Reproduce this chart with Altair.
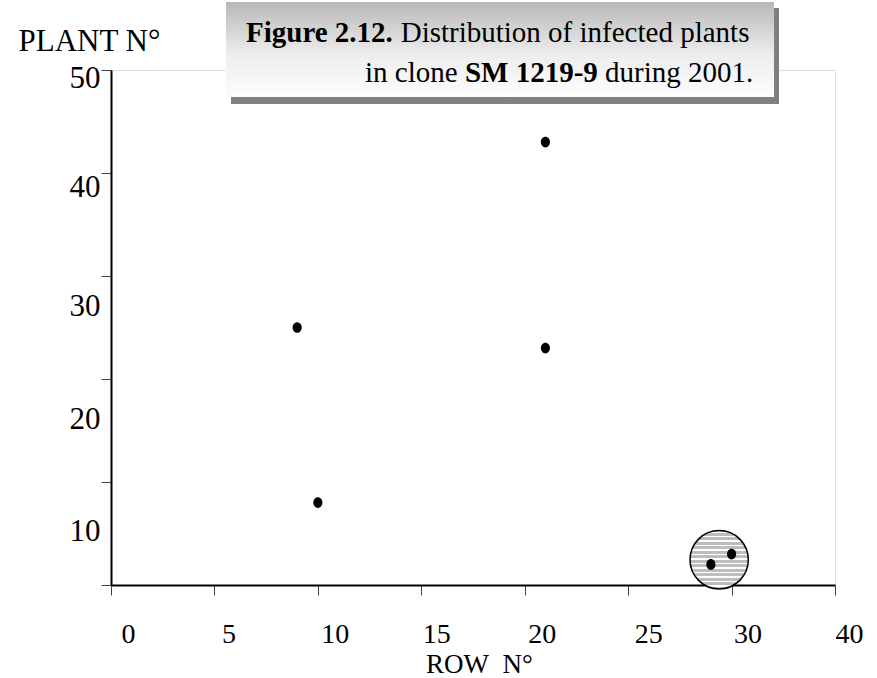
import altair as alt
import pandas as pd

# ---- data ----
row_no = [9, 21, 21, 10, 29, 30]
plant_no = [25, 43, 23, 8, 2, 3]
circle_row = [29.4]
circle_plant = [2.45]
x_tick_values = [0, 5, 10, 15, 20, 25, 30, 35]
y_tick_values = [0, 10, 20, 30, 40, 50]
title_l1_bold = "Figure 2.12."
title_l1 = "Distribution of infected plants"
title_l2_a = "in clone"
title_l2_bold = "SM 1219-9"
title_l2_b = "during 2001."

FONT = "Liberation Serif"

pts = pd.DataFrame({"row": row_no, "plant": plant_no})
circ = pd.DataFrame({"row": circle_row, "plant": circle_plant})
one = pd.DataFrame({"k": [0]})

xscale = alt.Scale(domain=[0, 35], nice=False, zero=False)
yscale = alt.Scale(domain=[0, 50], nice=False, zero=False)

# striped fill for the highlight circle
stops = []
n = 13
for i in range(n):
    s = (i + 0.2) / n
    w = 0.3 / n
    stops += [
        alt.GradientStop(offset=s, color="#bdbdbd"),
        alt.GradientStop(offset=s, color="#ffffff"),
        alt.GradientStop(offset=s + w, color="#ffffff"),
        alt.GradientStop(offset=s + w, color="#bdbdbd"),
    ]
stops = [alt.GradientStop(offset=0, color="#bdbdbd")] + stops + [alt.GradientStop(offset=1, color="#bdbdbd")]
stripe = alt.LinearGradient(gradient="linear", stops=stops, x1=0, x2=0, y1=0, y2=1)

xaxis = alt.Axis(
    values=x_tick_values,
    labelExpr="datum.value == 35 ? '40' : datum.label",
    title="ROW\u00a0 N°",
    titleX=368, titleY=87, titleAlign="center", titleBaseline="alphabetic",
    titleFont=FONT, titleFontSize=27, titleFontWeight="normal", titleColor="black",
    labelFont=FONT, labelFontSize=28, labelColor="black",
    labelAlign="left", labelBaseline="alphabetic", labelPadding=47,
    labelOffset={"condition": [
        {"test": "datum.value == 0", "value": 10},
        {"test": "datum.value == 5", "value": 7},
        {"test": "datum.value == 10", "value": 3},
        {"test": "datum.value == 15", "value": 1},
        {"test": "datum.value == 20", "value": 3},
        {"test": "datum.value == 25", "value": 6},
        {"test": "datum.value == 30", "value": 2},
    ], "value": 0},
    tickSize=10, tickColor="#444", tickWidth=1,
    domainColor="black", domainWidth=2, grid=False, labelFlush=False, labelOverlap=False,
)
yaxis = alt.Axis(
    values=y_tick_values,
    labelExpr="datum.value == 0 ? '' : datum.label",
    title="PLANT N°",
    titleAngle=0, titleX=-93, titleY=-20, titleAlign="left", titleBaseline="alphabetic",
    titleFont=FONT, titleFontSize=31, titleFontWeight="normal", titleColor="black",
    labelFont=FONT, labelFontSize=31, labelColor="black", labelPadding=1,
    labelOffset={"condition": [
        {"test": "datum.value == 10", "value": 49},
        {"test": "datum.value == 20", "value": 40},
        {"test": "datum.value == 30", "value": 30},
        {"test": "datum.value == 40", "value": 14},
    ], "value": 8},
    tickSize=10, tickColor="#444", tickWidth=1,
    domainColor="black", domainWidth=2, grid=False, labelFlush=False, labelOverlap=False,
)

circle = alt.Chart(circ).mark_circle(
    size=3400, fill=stripe, stroke="black", strokeWidth=1.5, opacity=1
).encode(
    x=alt.X("row:Q", scale=xscale, axis=xaxis),
    y=alt.Y("plant:Q", scale=yscale, axis=yaxis),
)

ellipse = "M -0.85 0 A 0.85 1 0 1 0 0.85 0 A 0.85 1 0 1 0 -0.85 0 Z"
points = alt.Chart(pts).mark_point(
    shape=ellipse, size=115, filled=True, color="black", opacity=1
).encode(
    x=alt.X("row:Q", scale=xscale, axis=xaxis),
    y=alt.Y("plant:Q", scale=yscale, axis=yaxis),
)

# title box (decoration, pixel positions relative to plot origin)
shadow = alt.Chart(one).mark_rect(color="#808080").encode(
    x=alt.value(120), x2=alt.value(668), y=alt.value(-62), y2=alt.value(34)
)
box_grad = alt.LinearGradient(
    gradient="linear", x1=0, x2=0, y1=0, y2=1,
    stops=[alt.GradientStop(offset=0, color="#b8b8b8"),
           alt.GradientStop(offset=0.55, color="#ededed"),
           alt.GradientStop(offset=1, color="#fdfdfd")],
)
box = alt.Chart(one).mark_rect(fill=box_grad).encode(
    x=alt.value(115), x2=alt.value(663), y=alt.value(-68), y2=alt.value(27)
)

def txt(s, x, y, bold=False):
    return alt.Chart(one).mark_text(
        text=s, font=FONT, fontSize=29, fontWeight="bold" if bold else "normal",
        align="left", baseline="alphabetic", color="black",
    ).encode(x=alt.value(x), y=alt.value(y))

t1 = txt(title_l1_bold, 135, -28, True)
t2 = txt(title_l1, 289.7, -28)
t3 = txt(title_l2_a, 254, 12)
t4 = txt(title_l2_bold, 353.9, 12, True)
t5 = txt(title_l2_b, 494.1, 12)

chart = alt.layer(circle, points, shadow, box, t1, t2, t3, t4, t5).properties(
    width=724, height=515,
    autosize=alt.AutoSizeParams(type="none"),
    padding={"left": 111, "top": 70, "right": 42, "bottom": 93},
).configure_view(
    stroke="black", strokeWidth=1.3
).configure(background="white")

chart.save("out.html", embed_options={"renderer": "svg", "actions": False})
